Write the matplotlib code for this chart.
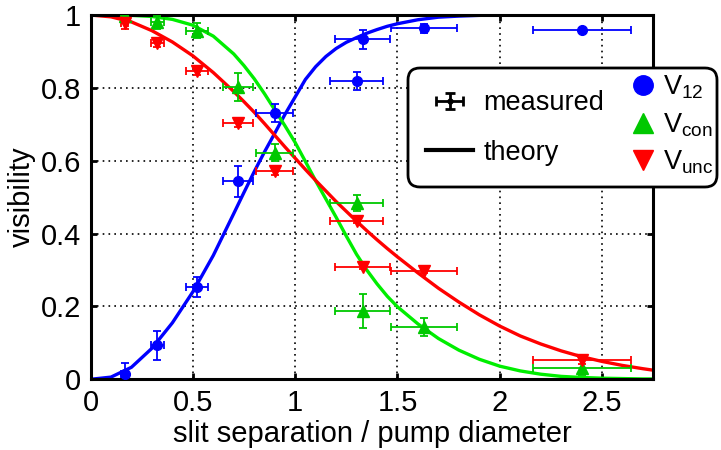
import numpy as np
import matplotlib
matplotlib.use('Agg')
import matplotlib.pyplot as plt
from matplotlib.lines import Line2D
from matplotlib.patches import FancyBboxPatch
from matplotlib.container import ErrorbarContainer
from matplotlib.legend_handler import HandlerErrorbar

plt.rcParams['font.family'] = ['Liberation Sans', 'DejaVu Sans']
plt.rcParams['mathtext.default'] = 'regular'

# measured points (slit separation / pump diameter)
x_meas = [0.167, 0.327, 0.52, 0.72, 0.90, 1.30, 1.33, 1.63, 2.40]
x_err = [0.017, 0.033, 0.052, 0.072, 0.090, 0.130, 0.133, 0.163, 0.240]

v12 = [0.014, 0.093, 0.253, 0.543, 0.731, 0.819, 0.933, 0.963, 0.959]
v12_err = [0.03, 0.04, 0.027, 0.042, 0.024, 0.024, 0.026, 0.013, 0.0]
vcon = [0.996, 0.98, 0.957, 0.803, 0.622, 0.484, 0.187, 0.144, 0.032]
vcon_err = [0.01, 0.018, 0.021, 0.039, 0.023, 0.021, 0.047, 0.025, 0.02]
vunc = [0.978, 0.923, 0.846, 0.703, 0.572, 0.434, 0.307, 0.298, 0.052]
vunc_err = [0.017, 0.01, 0.01, 0.01, 0.01, 0.005, 0.005, 0.005, 0.01]

# theory curves
x_th = [0.0, 0.1, 0.2, 0.3, 0.4, 0.5, 0.6, 0.7, 0.75, 0.8, 0.85, 0.9, 0.95,
        1.0, 1.05, 1.1, 1.15, 1.2, 1.25, 1.3, 1.35, 1.4, 1.45, 1.5, 1.6, 1.7,
        1.8, 1.9, 2.0, 2.1, 2.2, 2.3, 2.4, 2.5, 2.6, 2.7, 2.75]
v12_th = [0.000, 0.006, 0.033, 0.085, 0.155, 0.240, 0.340, 0.455, 0.513, 0.570,
          0.624, 0.675, 0.727, 0.775, 0.823, 0.858, 0.886, 0.908, 0.925, 0.938,
          0.950, 0.960, 0.969, 0.976, 0.987, 0.994, 0.997, 0.999, 1.0, 1.0,
          1.0, 1.0, 1.0, 1.0, 1.0, 1.0, 1.0]
vcon_th = [1.000, 1.000, 0.999, 0.996, 0.988, 0.972, 0.942, 0.893, 0.861, 0.825,
           0.784, 0.740, 0.696, 0.650, 0.598, 0.545, 0.495, 0.445, 0.393, 0.343,
           0.300, 0.262, 0.228, 0.199, 0.152, 0.112, 0.080, 0.055, 0.036, 0.023,
           0.014, 0.008, 0.005, 0.003, 0.002, 0.001, 0.001]
vunc_th = [1.000, 0.995, 0.981, 0.957, 0.926, 0.888, 0.842, 0.790, 0.762, 0.733,
           0.702, 0.670, 0.638, 0.607, 0.576, 0.546, 0.517, 0.488, 0.461, 0.434,
           0.408, 0.383, 0.359, 0.336, 0.292, 0.250, 0.212, 0.177, 0.146, 0.119,
           0.097, 0.078, 0.062, 0.049, 0.038, 0.029, 0.025]

xticks = [0, 0.5, 1, 1.5, 2, 2.5]
xticklabels = ['0', '0.5', '1', '1.5', '2', '2.5']
yticks = [0, 0.2, 0.4, 0.6, 0.8, 1]
yticklabels = ['0', '0.2', '0.4', '0.6', '0.8', '1']

blue = '#0000ff'
green_line = '#00ee00'
green_mark = '#00c800'
red = '#ff0000'

W, H = 721, 450
fig = plt.figure(figsize=(W / 100, H / 100), dpi=100)
ax = fig.add_axes([90.5 / W, 1 - 379.3 / H, (653.3 - 90.5) / W, (379.3 - 15) / H])

ax.plot(x_th, v12_th, color=blue, lw=2.4, zorder=2)
ax.plot(x_th, vcon_th, color=green_line, lw=2.4, zorder=2)
ax.plot(x_th, vunc_th, color=red, lw=2.4, zorder=2)

eb = dict(capsize=3, elinewidth=1.3, capthick=1.3, ls='none', zorder=3)
ax.errorbar(x_meas, v12, xerr=x_err, yerr=v12_err, fmt='o', color=blue, ms=7, **eb)
ax.errorbar(x_meas, vcon, xerr=x_err, yerr=vcon_err, fmt='^', color=green_mark, ms=8.5, **eb)
ax.errorbar(x_meas, vunc, xerr=x_err, yerr=vunc_err, fmt='v', color=red, ms=8.5, **eb)

ax.set_xlim(0, 2.75)
ax.set_ylim(0, 1)
ax.set_xticks(xticks)
ax.set_xticklabels(xticklabels)
ax.set_yticks(yticks)
ax.set_yticklabels(yticklabels)
ax.grid(True, color='k', ls=(0, (1, 2.5)), lw=1.2)
ax.tick_params(direction='in', length=4, width=2, top=True, right=True,
               labelsize=21, pad=7)
for s in ax.spines.values():
    s.set_linewidth(2.2)
ax.set_xlabel('slit separation / pump diameter', fontsize=21, labelpad=2)
ax.set_ylabel('visibility', fontsize=21, labelpad=3)

# legend box
box = FancyBboxPatch((408 / 100, (H - 187) / 100), 309 / 100, 119 / 100,
                     boxstyle='round,pad=0,rounding_size=0.12',
                     transform=fig.dpi_scale_trans, fc='white', ec='k', lw=2.0,
                     zorder=4)
fig.add_artist(box)

h_meas = ax.errorbar([np.nan], [np.nan], xerr=[0.1], yerr=[0.1], fmt='o', color='k',
                     ms=3.5, capsize=3.5, elinewidth=2, capthick=2)
h_th = Line2D([], [], color='k', lw=3)
leg1 = fig.legend([h_meas, h_th], ['measured', 'theory'], loc='center left',
                  bbox_to_anchor=(426 / W, 1 - 128 / H), frameon=False,
                  fontsize=19.5, handlelength=1.74, handletextpad=0.37,
                  labelspacing=0.85, borderpad=0, borderaxespad=0,
                  handler_map={ErrorbarContainer: HandlerErrorbar(xerr_size=0.5, yerr_size=0.3)})
leg1.set_zorder(5)

h1 = Line2D([], [], ls='none', marker='o', color=blue, ms=14)
h2 = Line2D([], [], ls='none', marker='^', color=green_mark, ms=15)
h3 = Line2D([], [], ls='none', marker='v', color=red, ms=15)
leg2 = fig.legend([h1, h2, h3], ['V$_{12}$', 'V$_{con}$', 'V$_{unc}$'], loc='center left',
                  bbox_to_anchor=(629.5 / W, 1 - 125 / H), frameon=False,
                  fontsize=19.5, handlelength=1.0, handletextpad=0.24,
                  labelspacing=0.37, borderpad=0, borderaxespad=0)
leg2.set_zorder(5)

fig.savefig('out.png', dpi=100)
